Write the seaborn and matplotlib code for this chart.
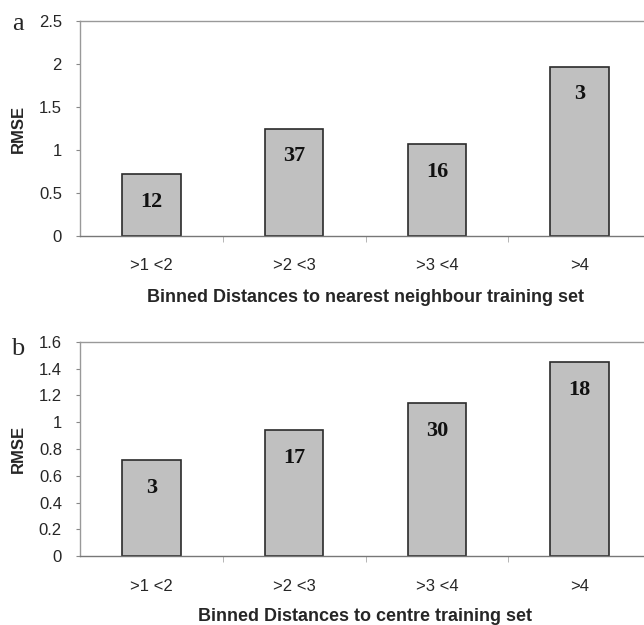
import matplotlib
matplotlib.use("Agg")
import matplotlib.pyplot as plt
import numpy as np
import pandas as pd
import seaborn as sns

# binned distance categories (same for both panels)
bins = [">1 <2", ">2 <3", ">3 <4", ">4"]

# panel a: distance to nearest neighbour in training set
rmse_nn = [0.72, 1.25, 1.07, 1.97]
count_nn = [12, 37, 16, 3]

# panel b: distance to centre of training set
rmse_centre = [0.72, 0.94, 1.14, 1.45]
count_centre = [3, 17, 30, 18]

sns.set_style("white")
plt.rcParams['font.family'] = ['Liberation Sans', 'DejaVu Sans']

fig = plt.figure(figsize=(6.44, 6.25), dpi=100)

W = 644.0
H = 625.0
left = 80 / W
width = (651 - 80) / W


def draw_panel(ax, values, counts, ymax, ystep, xlabel, xlab_y):
    df = pd.DataFrame({"bin": bins, "rmse": values})
    sns.barplot(data=df, x="bin", y="rmse", ax=ax, color="#c0c0c0",
                edgecolor="#2b2b2b", linewidth=1.2, width=0.41, saturation=1)
    ax.set_xlim(-0.5, len(bins) - 0.5)
    ax.set_ylim(0, ymax)
    ticks = np.arange(0, ymax + ystep / 2, ystep)
    ax.set_yticks(ticks)
    ax.set_yticklabels([f"{t:g}" for t in ticks], fontsize=12)
    ax.tick_params(axis="y", left=True, length=3, color="#888888", pad=10)
    # category labels without marks, small marks between categories
    ax.tick_params(axis="x", which="major", length=0, pad=16, labelsize=12)
    ax.set_xticks(np.arange(0.5, len(bins) - 0.4, 1.0), minor=True)
    ax.tick_params(axis="x", which="minor", bottom=True, length=4,
                   color="#aaaaaa", direction="out")
    for side in ["top", "left", "right"]:
        ax.spines[side].set_color("#999999")
        ax.spines[side].set_linewidth(1.0)
    ax.spines["bottom"].set_color("#777777")
    ax.spines["bottom"].set_linewidth(1.0)
    ax.set_ylabel("RMSE", fontsize=12, fontweight="bold")
    ax.yaxis.set_label_coords(-0.094, 0.5)
    ax.set_xlabel(xlabel, fontsize=13, fontweight="bold")
    ax.xaxis.set_label_coords(0.5, xlab_y)
    for patch, n in zip(ax.patches, counts):
        cx = patch.get_x() + patch.get_width() / 2
        ax.annotate(str(n), (cx, patch.get_height()), xytext=(0, -20),
                    textcoords="offset points", ha="center", va="center",
                    fontsize=16, fontweight="bold", family="Liberation Serif",
                    color="#111111")


ax_a = fig.add_axes([left, (H - 236) / H, width, 215 / H])
draw_panel(ax_a, rmse_nn, count_nn, 2.5, 0.5,
           "Binned Distances to nearest neighbour training set", -0.245)

ax_b = fig.add_axes([left, (H - 556.3) / H, width, 214.6 / H])
draw_panel(ax_b, rmse_centre, count_centre, 1.6, 0.2,
           "Binned Distances to centre training set", -0.24)

fig.text(12 / W, 1 - 30 / H, "a", fontsize=19, family="Liberation Serif",
         va="baseline", ha="left")
fig.text(11 / W, 1 - 355 / H, "b", fontsize=19, family="Liberation Serif",
         va="baseline", ha="left")

fig.savefig("out.png", dpi=100)
